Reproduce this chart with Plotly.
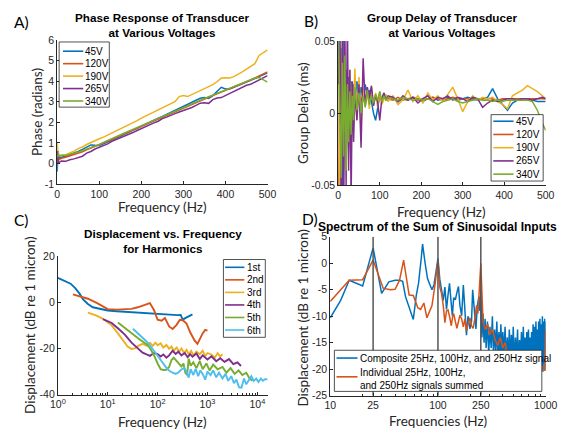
import plotly.graph_objects as go

W, H = 568, 436

# ---------------- Panel A: phase response ----------------
freq_a = [0, 2, 5, 10, 20, 30, 40, 50, 60, 70, 80, 90, 100, 110, 120, 130, 140, 150, 160, 170,
          180, 190, 200, 210, 220, 230, 240, 250, 260, 270, 280, 290, 300, 310, 320, 330, 340,
          350, 360, 370, 380, 390, 400, 410, 420, 430, 440, 450, 460, 470, 480, 490, 500]
phase_45 = [-0.4, 0.6, 0.25, 0.3, 0.35, 0.42, 0.5, 0.58, 0.68, 0.78, 0.9, 0.88, 0.87, 0.95, 1.03,
            1.13, 1.22, 1.32, 1.42, 1.52, 1.62, 1.72, 1.82, 1.91, 2.0, 2.1, 2.2, 2.28, 2.38, 2.47,
            2.55, 2.65, 2.75, 2.85, 2.95, 3.05, 3.17, 3.2, 3.16, 3.3, 3.5, 3.7, 3.62, 3.62, 3.7,
            3.78, 3.86, 3.95, 4.03, 4.12, 4.22, 4.3, 4.4]
phase_120 = [0.5, 0.1, 0.2, 0.25, 0.3, 0.36, 0.43, 0.5, 0.57, 0.66, 0.74, 0.83, 0.9, 0.98, 1.08,
             1.17, 1.25, 1.35, 1.44, 1.53, 1.63, 1.71, 1.8, 1.89, 1.98, 2.08, 2.16, 2.25, 2.34,
             2.43, 2.53, 2.61, 2.7, 2.79, 2.88, 2.97, 3.06, 3.14, 3.22, 3.3, 3.38, 3.46, 3.55,
             3.63, 3.72, 3.8, 3.89, 3.97, 4.06, 4.15, 4.24, 4.34, 4.45]
phase_190 = [1.0, 0.5, 0.35, 0.4, 0.42, 0.5, 0.6, 0.72, 0.8, 0.92, 1.02, 1.1, 1.2, 1.28, 1.38,
             1.47, 1.55, 1.66, 1.76, 1.88, 1.98, 2.08, 2.2, 2.3, 2.4, 2.48, 2.58, 2.7, 2.8, 2.9,
             3.0, 3.25, 3.3, 3.25, 3.35, 3.45, 3.55, 3.63, 3.72, 3.83, 3.97, 4.15, 4.17, 4.15,
             4.22, 4.32, 4.45, 4.58, 4.7, 4.85, 5.25, 5.4, 5.52]
phase_265 = [0.6, 0.0, 0.05, 0.12, 0.1, 0.18, 0.22, 0.3, 0.35, 0.5, 0.58, 0.7, 0.78, 0.85, 0.95,
             1.07, 1.15, 1.25, 1.33, 1.42, 1.5, 1.6, 1.7, 1.8, 1.88, 1.97, 2.05, 2.18, 2.25, 2.35,
             2.42, 2.5, 2.57, 2.62, 2.72, 2.82, 2.93, 2.95, 2.92, 3.1, 3.18, 3.2, 3.3, 3.4, 3.5,
             3.6, 3.7, 3.8, 3.85, 3.95, 4.05, 4.15, 4.27]
phase_340 = [0.3, 0.45, 0.35, 0.4, 0.38, 0.45, 0.5, 0.55, 0.62, 0.7, 0.78, 0.85, 0.92, 1.02, 1.12,
             1.2, 1.3, 1.38, 1.48, 1.57, 1.66, 1.75, 1.83, 1.92, 2.02, 2.1, 2.2, 2.28, 2.37, 2.46,
             2.55, 2.64, 2.72, 2.8, 2.9, 3.0, 3.08, 3.15, 3.24, 3.32, 3.4, 3.5, 3.57, 3.65, 3.73,
             3.82, 3.9, 3.98, 4.06, 4.15, 4.18, 4.05, 3.95]

# ---------------- Panel B: group delay (values in microseconds -> ms) ----------------
freq_b = [1, 4, 7, 10, 13, 16, 19, 22, 25, 28, 31, 34, 37, 40, 45, 50, 55, 60, 65, 70, 75, 80,
          85, 90, 95, 100, 105, 110, 115, 120, 132, 144, 156, 168, 180, 192, 204, 216, 228, 240,
          252, 264, 276, 288, 300, 312, 324, 336, 348, 360, 372, 384, 396, 408, 420, 432, 444,
          456, 468, 480, 492, 500]
gd_45_us = [60, -40, 45, -60, 50, -20, 30, -10, 25, -5, 22, 0, 20, 5,
            22, 8, 18, 10, 20, 12, 16, 8, 0, -5, 5, 12, 8, 14, 9, 11,
            10, 8, 10, 9, 11, 10, 8, 10, 11, 9, 10, 11, 10, 9, 10, 11, 10, 9, 10, 11, 17, 10, 6,
            2, 7, 9, 10, 10, 9, 8, 8, 8]
gd_120_us = [-50, 30, -30, 40, -20, 30, -10, 20, 0, 18, 2, 16, 5, 15,
             6, 14, 8, 13, 9, 12, 8, 12, 9, 11, 8, 11, 9, 11, 10, 10,
             9, 11, 9, 10, 11, 9, 10, 10, 11, 10, 9, 10, 11, 10, 10, 10, 9, 10, 10, 10, 10, 9,
             10, 10, 10, 10, 10, 10, 10, 10, 10, 10]
gd_190_us = [40, -60, 20, 50, -40, 35, -30, 25, -25, 30, -20, 20, -10, 31,
             -5, 25, -8, 18, 5, 15, 3, 18, 6, 14, 4, 15, 6, 10, 13, 8,
             12, 6, 9, 16, 8, 12, 7, 14, 9, 12, 8, 13, 18, 10, 1, 8, 12, 9, 11, 10, 11, 8, 6, 3,
             12, 14, 16, 19, 17, 15, 12, 10]
gd_265_us = [20, 70, -70, 60, -80, 60, -50, 70, -40, 30, -60, 22, -20, 15,
             -5, 20, -24, 38, 5, 18, 10, 19, 5, 12, 8, -5, 10, 14, 9, 12,
             11, 8, 12, 9, 11, 7, 10, 12, 8, 11, 10, 12, 9, 11, 10, 8, 11, 10, 4, 7, 9, 8, 9, 10,
             10, 9, 10, 10, 9, 10, 11, 10]
gd_340_us = [50, 10, -45, 35, -30, 40, -40, 20, -20, 15, -15, 12, -5, 18,
             2, 14, 0, 12, 4, 16, 6, 12, 7, 13, 9, 15, 8, 12, 9, 11,
             10, 9, 11, 10, 9, 10, 9, 10, 8, 6, 8, 9, 10, 8, 7, 8, 9, 10, 9, 9, 8, 9, 8, 9, 9, 9,
             9, 9, 8, 2, -7, -12]

voltage_names = ["45V", "120V", "190V", "265V", "340V"]

# ---------------- Panel C: harmonics ----------------
h1_f = [1, 1.4, 1.8, 2.2, 2.7, 3.2, 4, 5, 6.5, 8, 10, 15, 20, 30, 50, 80, 120, 180, 250, 290,
        320, 350, 400, 450, 500]
h1_d = [10.5, 9.2, 8.0, 6.2, 3.8, 1.2, -0.8, -2.2, -2.8, -3.2, -3.6, -3.9, -4.1, -4.3, -4.6,
        -5.0, -5.3, -5.5, -5.6, -5.5, -7.6, -7.0, -6.3, -5.7, -5.3]
h2_f = [2, 3, 4, 6, 8, 10, 15, 20, 30, 40, 55, 70, 85, 100, 120, 140, 170, 200, 240, 280, 320,
        380, 450, 550, 630, 700, 800, 900, 1000]
h2_d = [3.4, 2.4, 1.5, -0.3, -1.8, -3.0, -3.2, -3.1, -2.9, -2.2, -1.2, -0.4, -3.5, -7.6, -8.0,
        -6.8, -10.5, -11.6, -9.8, -7.6, -7.8, -9.2, -13.0, -16.5, -18.0, -16.0, -13.5, -12.0,
        -12.3]
h3_f = [4, 6, 8, 12, 16, 20, 25, 30, 35, 40, 50, 60, 70, 80, 90, 100, 115, 130, 150, 170, 190,
        210, 240, 270, 300, 340, 380, 420, 470, 520, 600, 700, 800, 900, 1000, 1200, 1400, 1600,
        1800, 2000]
h3_d = [-4.5, -5.8, -7.2, -10.0, -13.5, -16.5, -19.2, -20.2, -20.0, -19.0, -18.0, -18.8, -17.6,
        -18.9, -17.5, -18.6, -17.8, -19.6, -18.5, -20.2, -19.2, -21.0, -19.6, -21.4, -20.0,
        -22.0, -20.6, -22.5, -21.0, -23.0, -21.4, -22.5, -21.0, -23.2, -22.0, -22.6, -24.0,
        -22.0, -23.5, -22.5]
h4_f = [8, 12, 16, 22, 30, 40, 50, 60, 70, 85, 100, 115, 130, 150, 170, 200, 230, 260, 300, 350,
        400, 450, 500, 600, 700, 800, 1000, 1200, 1500, 1800, 2200, 2700, 3300, 4000, 4700]
h4_d = [-7.3, -9.0, -11.3, -14.0, -17.5, -20.0, -21.8, -22.6, -23.2, -22.0, -22.4, -23.5, -22.6,
        -24.0, -23.0, -21.0, -22.4, -21.4, -23.0, -22.0, -23.8, -22.5, -23.6, -22.2, -24.6,
        -23.0, -24.8, -23.4, -25.5, -24.2, -25.8, -24.6, -26.8, -26.0, -27.6]
h5_f = [16, 20, 25, 30, 40, 50, 60, 70, 85, 100, 115, 130, 150, 170, 190, 210, 240, 270, 300,
        330, 360, 390, 420, 460, 520, 600, 700, 800, 950, 1100, 1300, 1600, 2000, 2400, 2900,
        3500, 4200, 5000, 6000, 7000, 8000]
h5_d = [-8.8, -10.5, -12.0, -13.7, -15.5, -17.0, -18.2, -19.8, -23.0, -26.5, -29.0, -29.3, -29.2,
        -28.0, -25.0, -24.0, -25.5, -26.8, -27.8, -26.5, -30.5, -31.5, -24.5, -27.5, -26.0,
        -28.5, -25.5, -29.0, -26.5, -29.5, -27.0, -29.0, -28.0, -30.5, -28.5, -31.0, -29.5,
        -31.5, -30.5, -33.0, -34.0]
h6_f = [32, 40, 50, 60, 75, 90, 110, 130, 150, 175, 200, 230, 260, 300, 340, 380, 420, 460, 520,
        580, 650, 720, 800, 900, 1000, 1150, 1300, 1500, 1700, 2000, 2300, 2600, 3000, 3400,
        3800, 4300, 4800, 5400, 6000, 6800, 7600, 8500, 9500, 10500, 11800, 13000, 14500, 16000]
h6_d = [-11.5, -13.5, -15.5, -17.0, -19.5, -22.0, -24.5, -26.5, -28.4, -29.8, -30.5, -31.0,
        -30.4, -29.1, -28.5, -30.0, -32.6, -29.0, -31.5, -28.8, -32.0, -29.5, -31.0, -33.5,
        -30.0, -31.5, -29.5, -32.5, -30.5, -33.0, -31.0, -34.0, -32.0, -35.0, -33.5, -36.8,
        -37.0, -33.0, -35.5, -33.5, -32.0, -34.0, -33.0, -34.5, -33.0, -34.0, -33.2, -33.5]
harmonic_names = ["1st", "2nd", "3rd", "4th", "5th", "6th"]

# ---------------- Panel D: spectrum ----------------
comp_f = [10, 12.5, 15, 20, 25, 30, 35, 40, 44, 47, 50, 55, 59, 63, 66, 70, 72, 76, 80, 84,
          88, 92, 96, 100, 104, 108, 112, 116, 120, 124, 128, 132, 136, 140, 145, 150, 155, 160,
          166, 172, 178, 184, 190, 198, 205, 210, 218, 225, 232, 240, 245, 250, 256, 262, 268,
          274, 280, 288, 296, 304, 312, 320, 328, 336, 344, 352, 360, 368, 376, 384, 392, 400,
          410, 420, 430, 440, 450, 460, 470, 480, 490, 500, 512, 524, 536, 548, 560, 572, 584,
          596, 608, 620, 632, 644, 656, 668, 680, 692, 704, 716, 728, 740, 752, 764, 776, 788,
          800, 812, 824, 836, 848, 860, 872, 884, 896, 908, 920, 932, 944, 956, 968, 980, 990,
          1000]
comp_d = [-10.3, -7.0, -3.2, -4.3, 2.9, -5.7, -3.5, -3.2, -3.2, -3.4,
          -6.3, -9.0, -10.6, -6.0, -3.8, 1.0, 3.6, 0.0, -2.9, -4.0,
          -5.0, -4.0, -1.0, 0.9, -3.0, -5.0, -7.0, -4.5, -8.7, -6.0,
          -3.8, -7.0, -9.9, -6.5, -6.9, -5.5, -4.4, -8.0, -9.9, -4.1,
          -9.0, -13.6, -10.0, -12.4, -11.0, -5.0, -9.0, -12.4, -8.0, -6.3,
          -9.0, -5.0,
          -14, -9.5, -15, -10.5, -16, -11, -17, -12,
          -16, -10, -17.5, -12.5, -16.5, -11, -18, -13, -17, -11.5,
          -18.5, -13, -17, -12, -19, -14, -18, -12.5, -19.5, -13.5,
          -18, -12, -19.5, -14, -18.5, -12.5, -20, -14.5, -18, -13,
          -19.5, -12, -18.5, -14, -20, -13, -19, -12.5, -18.5, -14,
          -20, -13, -19, -11.5, -19.5, -12, -20, -11, -19, -12.5,
          -20.5, -11, -19, -10.5, -20, -11.5, -19.5, -10, -20.5, -11,
          -19, -10.5, -20.3, -11]
indiv_f = [10, 15, 20, 25, 31, 36, 40, 44, 48, 54, 59, 65, 69, 74, 79, 84, 88, 94, 100, 104,
           108, 112, 116, 120, 124, 128, 133, 137, 140, 145, 150, 155, 160, 166, 172, 178, 184,
           190, 198, 205, 212, 220, 228, 235, 240, 245, 250, 262, 275, 290, 300, 320, 340, 360,
           380, 400, 420, 440, 460, 480, 500, 530, 560, 600, 640, 680, 720, 760, 800, 850, 900,
           950, 980, 990, 1000]
indiv_d = [-7.2, -3.2, -3.1, 0.6, -4.7, -5.0, -4.9, -3.2, 0.6, -6.0,
           -6.1, -8.4, -8.7, -7.5, -10.3, -9.0, -8.0, -4.0, 0.5, -4.5,
           -5.7, -8.0, -11.2, -9.0, -8.8, -10.0, -11.8, -10.0, -9.5, -11.0,
           -12.3, -11.0, -9.8, -10.5, -12.0, -10.5, -12.8, -11.5, -10.3, -11.8,
           -12.3, -10.5, -8.0, -9.5, -6.0, -3.0, 0.0, -11.0, -12.5, -11.5,
           -13.5, -12.5, -14.5, -15.5, -14.0, -16.0, -15.0, -17.0, -16.5, -17.5,
           -18.0, -17.2, -18.5, -17.8, -19.0, -18.2, -19.5, -18.5, -20.0, -19.0,
           -20.5, -19.5, -20.3, -16.0, -12.5]
input_freqs = [25, 100, 250]
spectrum_names = ["Composite 25Hz, 100Hz, and 250Hz signal",
                  "Individual 25Hz, 100Hz,<br>and 250Hz signals summed"]

# ---------------- styling ----------------
C6 = ["#0072BD", "#D95319", "#EDB120", "#7E2F8E", "#77AC30", "#4DBEEE"]
AX = "#262626"
TXT = "#262626"
TICK_FONT = dict(family="Liberation Sans, Arial", size=10.5, color=TXT)
LAB_FONT = dict(family="Lato, Open Sans, sans-serif", size=13.5, color=TXT)
TITLE_FONT = dict(family="Liberation Sans, Arial", size=11.7, color="#000000")
TITLE_FONT_D = dict(family="Liberation Sans, Arial", size=12, color="#000000")
LEG_FONT = dict(family="Liberation Sans, Arial", size=10, color="#000000")


def fx(px):
    return px / W


def fy(py):
    return 1 - py / H


fig = go.Figure()

# Panel A traces
for name, ys, c in zip(voltage_names, [phase_45, phase_120, phase_190, phase_265, phase_340], C6):
    fig.add_trace(go.Scatter(x=freq_a, y=ys, mode="lines", name=name,
                             line=dict(color=c, width=1.5), xaxis="x", yaxis="y",
                             showlegend=False))

# Panel B traces
for name, ys, c in zip(voltage_names, [gd_45_us, gd_120_us, gd_190_us, gd_265_us, gd_340_us], C6):
    fig.add_trace(go.Scatter(x=freq_b, y=[v / 1000 for v in ys], mode="lines", name=name,
                             line=dict(color=c, width=1.5), xaxis="x2", yaxis="y2",
                             showlegend=False))

# Panel C traces
harm = [(h1_f, h1_d), (h2_f, h2_d), (h3_f, h3_d), (h4_f, h4_d), (h5_f, h5_d), (h6_f, h6_d)]
for name, (xs, ys), c in zip(harmonic_names, harm, C6):
    fig.add_trace(go.Scatter(x=xs, y=ys, mode="lines", name=name,
                             line=dict(color=c, width=1.9), xaxis="x3", yaxis="y3",
                             showlegend=False))

# Panel D traces
fig.add_trace(go.Scatter(x=comp_f, y=comp_d, mode="lines", name="Composite",
                         line=dict(color=C6[0], width=1.5), xaxis="x4", yaxis="y4",
                         showlegend=False))
fig.add_trace(go.Scatter(x=indiv_f, y=indiv_d, mode="lines", name="Individual",
                         line=dict(color=C6[1], width=1.5), xaxis="x4", yaxis="y4",
                         showlegend=False))
for f in input_freqs:
    fig.add_trace(go.Scatter(x=[f, f], y=[-25, 5], mode="lines",
                             line=dict(color="#555555", width=1.5), xaxis="x4", yaxis="y4",
                             showlegend=False, hoverinfo="skip"))


def axis_style(**kw):
    d = dict(showline=True, linecolor=AX, linewidth=1, ticks="inside", ticklen=3,
             tickwidth=1, tickcolor=AX, showgrid=False, zeroline=False, mirror=False,
             tickfont=TICK_FONT)
    d.update(kw)
    return d


# panel boxes in pixels: (left, right, top, bottom)
PA = (51, 269, 35, 183)
PB = (342.3, 557.3, 36, 184.3)
PC = (51.7, 269.3, 257, 399.7)
PD = (334, 557.3, 237.3, 400.7)


def dom(p):
    return [fx(p[0]), fx(p[1])], [fy(p[3]), fy(p[2])]


dAx, dAy = dom(PA)
dBx, dBy = dom(PB)
dCx, dCy = dom(PC)
dDx, dDy = dom(PD)

c_major = [1, 10, 100, 1000, 10000]
c_major_txt = ["10<sup>0</sup>", "10<sup>1</sup>", "10<sup>2</sup>", "10<sup>3</sup>", "10<sup>4</sup>"]
c_minor = [m * d for d in [1, 10, 100, 1000, 10000] for m in range(2, 10)]
d_major = [10, 25, 100, 250, 1000]
d_minor = [20, 30, 40, 50, 60, 70, 80, 90, 200, 300, 400, 500, 600, 700, 800, 900]

fig.update_layout(
    width=W, height=H, autosize=False,
    margin=dict(l=0, r=0, t=0, b=0),
    paper_bgcolor="white", plot_bgcolor="white",
    xaxis=axis_style(domain=dAx, anchor="y", range=[0, 500], tickmode="array",
                     tickvals=[0, 100, 200, 300, 400, 500]),
    yaxis=axis_style(domain=dAy, anchor="x", range=[-1, 6], tickmode="array",
                     tickvals=[-1, 0, 1, 2, 3, 4, 5, 6],
                     ticktext=["-1", "0", "1", "2", "3", "4", "5", "6"]),
    xaxis2=axis_style(domain=dBx, anchor="y2", range=[0, 500], tickmode="array",
                      tickvals=[0, 100, 200, 300, 400, 500]),
    yaxis2=axis_style(domain=dBy, anchor="x2", range=[-0.05, 0.05], tickmode="array",
                      tickvals=[-0.05, 0, 0.05], ticktext=["-0.05", "0", "0.05"]),
    xaxis3=axis_style(domain=dCx, anchor="y3", type="log", range=[0, 4.21], tickmode="array",
                      tickvals=c_major, ticktext=c_major_txt,
                      minor=dict(ticks="inside", ticklen=2, tickcolor=AX, tickmode="array",
                                 tickvals=c_minor)),
    yaxis3=axis_style(domain=dCy, anchor="x3", range=[-40, 20], tickmode="array",
                      tickvals=[-40, -20, 0, 20], ticktext=["-40", "-20", "0", "20"]),
    xaxis4=axis_style(domain=dDx, anchor="y4", type="log", range=[1, 3], tickmode="array",
                      tickvals=d_major, ticktext=[str(v) for v in d_major],
                      minor=dict(ticks="inside", ticklen=2, tickcolor=AX, tickmode="array",
                                 tickvals=d_minor)),
    yaxis4=axis_style(domain=dDy, anchor="x4", range=[-25, 5], tickmode="array",
                      tickvals=[-25, -20, -15, -10, -5, 0, 5],
                      ticktext=["-25", "-20", "-15", "-10", "-5", "0", "5"]),
)

shapes = []
annotations = []


def text(x, y, s, font, xanchor="center", yanchor="middle", angle=0, align="center"):
    annotations.append(dict(x=fx(x), y=fy(y), xref="paper", yref="paper", text=s,
                            showarrow=False, font=font, xanchor=xanchor, yanchor=yanchor,
                            textangle=angle, borderpad=0, align=align))


def legend_box(x0, x1, y0, y1, entries, lx0, lx1, tx):
    shapes.append(dict(type="rect", xref="paper", yref="paper", x0=fx(x0), x1=fx(x1),
                       y0=fy(y1), y1=fy(y0), line=dict(color=AX, width=0.8),
                       fillcolor="white", layer="above"))
    for label, color, yc, ty in entries:
        shapes.append(dict(type="line", xref="paper", yref="paper", x0=fx(lx0), x1=fx(lx1),
                           y0=fy(yc), y1=fy(yc), line=dict(color=color, width=1.6),
                           layer="above"))
        text(tx, ty, label, LEG_FONT, xanchor="left", align="left")


# legends
legend_box(53, 105, 37, 104,
           [(n, c, 46.5 + 12.8 * i, 46.5 + 12.8 * i) for i, (n, c) in enumerate(zip(voltage_names, C6))],
           57, 78, 79)
legend_box(500.7, 554.7, 111.7, 180,
           [(n, c, 118.5 + 13.6 * i, 118.5 + 13.6 * i) for i, (n, c) in enumerate(zip(voltage_names, C6))],
           503, 524, 525.5)
legend_box(223.3, 266.7, 260.7, 340.7,
           [(n, c, 268.7 + 12.9 * i, 268.7 + 12.9 * i) for i, (n, c) in enumerate(zip(harmonic_names, C6))],
           225, 245, 246.5)
legend_box(338.3, 553.3, 354, 396.3,
           [(spectrum_names[0], C6[0], 362, 362), (spectrum_names[1], C6[1], 381.3, 383.5)],
           340.5, 362.3, 363.3)

# titles
text(160, 19.5, "<b>Phase Response of Transducer</b><br><b>at Various Voltages</b>", TITLE_FONT)
text(449.8, 20, "<b>Group Delay of Transducer</b><br><b>at Various Voltages</b>", TITLE_FONT)
text(160.5, 241.3, "<b>Displacement vs. Frequency</b><br><b>for Harmonics</b>", TITLE_FONT)
text(445.6, 227.5, "<b>Spectrum of the Sum of Sinusoidal Inputs</b>", TITLE_FONT_D)

# panel letters
LET_FONT = dict(family="Lato, Open Sans, sans-serif", size=15.5, color="#000000")
text(5, 16, "A)", LET_FONT, xanchor="left")
text(306, 15, "B)", LET_FONT, xanchor="left")
text(5, 220, "C)", LET_FONT, xanchor="left")
text(304, 219, "D)", LET_FONT, xanchor="left")

# axis labels
text(160, 207, "Frequency (Hz)", LAB_FONT)
text(449.8, 211.5, "Frequency (Hz)", LAB_FONT)
text(160.5, 427.5, "Frequency (Hz)", LAB_FONT)
text(445.6, 427, "Frequencies (Hz)", LAB_FONT)
text(30, 109, "Phase (radians)", LAB_FONT, angle=-90)
text(305.7, 110, "Group Delay (ms)", LAB_FONT, angle=-90)
text(23.5, 328.3, "Displacement (dB re 1 micron)", LAB_FONT, angle=-90)
text(305.7, 320.5, "Displacement (dB re 1 micron)", LAB_FONT, angle=-90)

fig.update_layout(shapes=shapes, annotations=annotations)
fig.write_html("out.html", config={"displayModeBar": False},
               post_script="document.body.style.margin='0';document.body.style.overflow='hidden';")
